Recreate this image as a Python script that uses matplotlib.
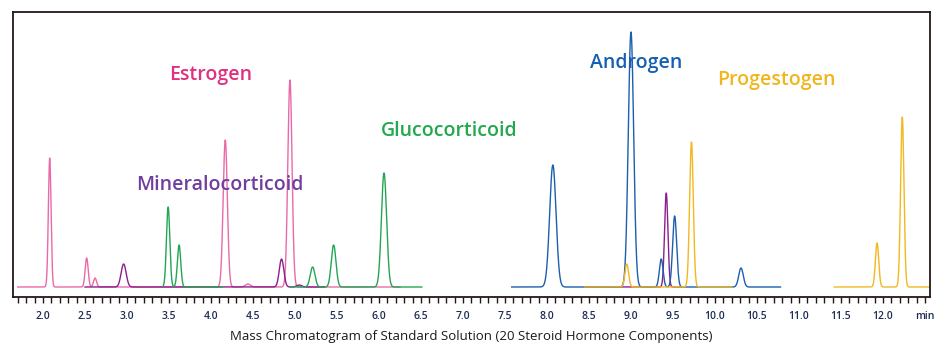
import numpy as np
import matplotlib.pyplot as plt

# peak tables: retention time (min), height (px-ish units), width (sigma, min)
pink_rt = [2.08, 2.52, 2.62, 4.17, 4.44, 4.94]
pink_h = [129, 29, 9, 147, 3, 207]
pink_w = [0.016, 0.018, 0.018, 0.025, 0.03, 0.025]
pink_span = [(1.70, 6.25)]

purple_rt = [2.96, 4.84, 5.05, 9.42]
purple_h = [23, 28, 2, 94]
purple_w = [0.03, 0.027, 0.03, 0.02]
purple_span = [(2.50, 5.35), (8.45, 9.60)]

green_rt = [3.49, 3.62, 5.21, 5.46, 6.06]
green_h = [80, 42, 20, 42, 114]
green_w = [0.02, 0.02, 0.028, 0.028, 0.031]
green_span = [(3.43, 4.13), (4.95, 6.51)]

blue_rt = [8.07, 9.00, 9.36, 9.52, 10.31]
blue_h = [122, 255, 28, 71, 19]
blue_w = [0.038, 0.032, 0.022, 0.024, 0.027]
blue_span = [(7.58, 10.78)]

yellow_rt = [8.95, 9.72, 11.93, 12.23]
yellow_h = [23, 145, 44, 170]
yellow_w = [0.022, 0.022, 0.02, 0.02]
yellow_span = [(8.45, 10.20), (11.42, 12.56)]

labels = ["Estrogen", "Mineralocorticoid", "Glucocorticoid", "Androgen", "Progestogen"]
tick_vals = [2.0, 2.5, 3.0, 3.5, 4.0, 4.5, 5.0, 5.5, 6.0, 6.5, 7.0, 7.5,
             8.0, 8.5, 9.0, 9.5, 10.0, 10.5, 11.0, 11.5, 12.0, 12.5]
tick_text = [f"{v:.1f}" for v in tick_vals[:-1]] + ["min"]

series = [
    (pink_rt, pink_h, pink_w, pink_span, "#ea6aa8"),
    (purple_rt, purple_h, purple_w, purple_span, "#8c1f8e"),
    (green_rt, green_h, green_w, green_span, "#22a653"),
    (blue_rt, blue_h, blue_w, blue_span, "#1c5fae"),
    (yellow_rt, yellow_h, yellow_w, yellow_span, "#f3b820"),
]
label_colors = ["#e0307f", "#6e3f9e", "#23a84e", "#1660b3", "#f0b61c"]
label_pos = [(211, 75), (220, 185), (449, 131), (636, 63), (776, 80)]

W, H = 952, 355
fig = plt.figure(figsize=(W / 100, H / 100), dpi=100)
ax = fig.add_axes([13 / W, 1 - 297 / H, (930 - 13) / W, (297 - 12) / H])

for rt, h, w, spans, col in series:
    for a, b in spans:
        t = np.linspace(a, b, 3000)
        y = np.zeros_like(t)
        for r, hh, ww in zip(rt, h, w):
            if a - 0.05 <= r <= b + 0.05:
                y += hh * np.exp(-0.5 * ((t - r) / ww) ** 2)
        ax.plot(t, y, color=col, lw=1.0)

ax.set_xlim(1.643, 12.56)
ax.set_ylim(-10, 275)
ax.set_yticks([])
for s in ax.spines.values():
    s.set_color("#231815")
    s.set_linewidth(1.3)

ax.set_xticks(tick_vals)
ax.set_xticklabels(tick_text, fontsize=7.5, color="#1d2c55", fontweight="semibold",
                   family="Open Sans")
ax.set_xticks(np.arange(1.7, 12.55, 0.1), minor=True)
ax.tick_params(axis="x", which="both", direction="out", length=4, width=1,
               color="#231815", pad=6)

ax.set_xlabel("Mass Chromatogram of Standard Solution (20 Steroid Hormone Components)",
              fontsize=9.5, family="Open Sans", color="#1a1a1a", labelpad=6)

for txt, col, (px, py) in zip(labels, label_colors, label_pos):
    fig.text(px / W, 1 - py / H, txt, color=col, fontsize=14, fontweight="semibold",
             family="Open Sans", ha="center", va="center")

fig.savefig("out.png", dpi=100)
